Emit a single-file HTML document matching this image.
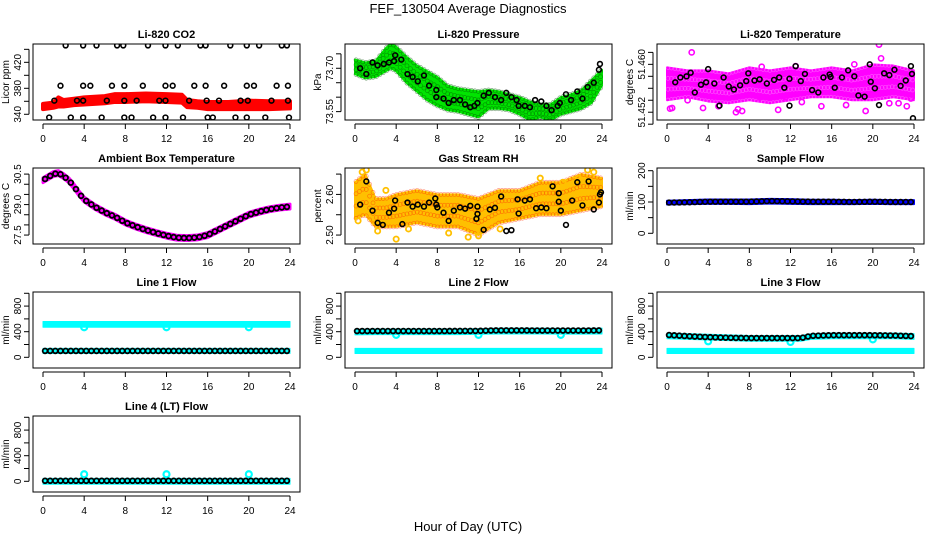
<!DOCTYPE html>
<html><head><meta charset="utf-8"><style>
html,body{margin:0;padding:0;background:#fff;width:936px;height:540px;overflow:hidden}
svg{display:block;font-family:"Liberation Sans",Arial,sans-serif}
</style></head><body>
<svg id="chart" width="936" height="540" viewBox="0 0 936 540">
<text x="468" y="13" text-anchor="middle" font-size="13">FEF_130504  Average Diagnostics</text>
<text x="468" y="531" text-anchor="middle" font-size="13">Hour of Day (UTC)</text>
</svg>
<script>
// ---- data ----
const hourTicks = [0,4,8,12,16,20,24];
// CO2
const co2BlackHours = [2.2,3.9,5.2,7.2,7.8,10.2,11.9,13.1,15.3,15.8,18.2,19.8,21.0,23.2,23.7, 1.7,3.9,4.6,6.7,7.9,9.7,11.9,12.6,14.7,15.8,17.6,19.8,20.5,22.7,23.8, 1.1,3.3,3.9,6.2,7.9,9.1,11.3,11.9,14.2,15.9,17.1,19.2,19.9,22.2,23.8, 0.6,2.7,3.9,5.7,7.9,8.6,10.7,11.9,13.6,16.0,16.5,18.7,19.8,21.6,23.9];
const co2BlackValues = [446,446,446,446,446,446,446,446,446,446,446,446,446,446,446, 384,384,384,384,384,384,384,384,384,384,384,384,384,384,384, 361,361,361,361,361,361,361,361,361,361,361,361,361,361,361, 335,335,335,335,335,335,335,335,335,335,335,335,335,335,335];
const co2BandHours = [0,1,1.5,2,3,4,6,7,8,10,12,13.5,14,15,16,18,20,22,24];
const co2BandLo = [348,350,352,352,354,355,357,359,359,360,359,358,351,350,348,348,348,348,349];
const co2BandHi = [356,358,366,362,364,366,368,371,371,372,371,370,362,360,359,359,361,360,360];
// Pressure
const presBandHours = [0,1,2,3,3.5,4,5,6,7,8,9,10,11,12,13,14,15,16,17,18,19,20,21,22,23,24];
const presBandLo = [73.68,73.665,73.67,73.69,73.70,73.69,73.65,73.62,73.59,73.57,73.555,73.55,73.54,73.53,73.56,73.56,73.555,73.54,73.52,73.53,73.52,73.54,73.55,73.56,73.58,73.64];
const presBandHi = [73.73,73.72,73.725,73.77,73.785,73.775,73.74,73.71,73.69,73.67,73.64,73.63,73.625,73.62,73.625,73.62,73.61,73.60,73.585,73.575,73.575,73.60,73.61,73.625,73.66,73.695];
const presHours = [0.5,1.1,1.7,2.2,2.8,3.3,3.8,3.9,4.5,5.1,5.6,6.1,6.7,7.2,7.9,7.9,8.6,9.1,9.6,10.2,10.7,11.2,11.6,11.9,12.5,13.0,13.6,14.2,14.7,15.2,15.7,15.9,16.5,17.0,17.5,18.1,18.6,19.1,19.7,19.9,20.5,21.0,21.6,22.1,22.6,23.2,23.7,23.8];
const presValues = [73.70,73.68,73.72,73.71,73.715,73.72,73.725,73.745,73.73,73.68,73.67,73.655,73.675,73.64,73.625,73.60,73.595,73.58,73.59,73.59,73.575,73.565,73.57,73.58,73.605,73.615,73.60,73.59,73.615,73.60,73.59,73.57,73.57,73.565,73.59,73.585,73.57,73.555,73.57,73.58,73.61,73.59,73.62,73.595,73.635,73.65,73.695,73.715];
// Li-820 temperature
const ltBandHours = [0,2,4,6,8,10,12,14,16,18,20,22,24];
const ltBandLo = [51.4540,51.4545,51.4538,51.4535,51.4540,51.4535,51.4540,51.4545,51.4545,51.4540,51.4540,51.4545,51.4540];
const ltBandHi = [51.4595,51.4590,51.4590,51.4585,51.4595,51.4590,51.4595,51.4590,51.4595,51.4590,51.4600,51.4598,51.4590];
const ltPinkHours = [0.3,0.5,2.4,3.5,6.7,6.9,7.3,9.0,10.8,11.5,12.5,15.0,17.4,19.3,20.6,20.8,21.6,22.5,23.7,2.0,5.0,9.2,13.1,18.2,23.3];
const ltPinkValues = [51.4526,51.4527,51.4620,51.4527,51.4520,51.4525,51.4522,51.4545,51.4524,51.4545,51.4597,51.4530,51.4532,51.4522,51.4633,51.4610,51.4535,51.4535,51.4543,51.4540,51.4530,51.4596,51.4537,51.4600,51.4530];
const ltHours = [0.8,1.3,1.9,2.3,2.7,3.3,3.8,4.0,4.6,5.1,5.5,6.0,6.5,7.1,7.7,7.9,8.5,9.0,9.7,10.4,10.9,11.4,11.9,11.9,12.5,13.0,13.4,14.1,14.7,15.2,15.8,15.9,16.3,17.0,17.6,18.2,18.6,19.2,19.7,19.8,20.2,20.6,21.1,21.6,22.1,22.7,23.2,23.7,23.8,23.9];
const ltValues = [51.4570,51.4578,51.4580,51.4586,51.4553,51.4566,51.4570,51.4592,51.4568,51.4531,51.4578,51.4563,51.4558,51.4565,51.4572,51.4585,51.4573,51.4575,51.4568,51.4574,51.4578,51.4561,51.4531,51.4576,51.4597,51.4572,51.4584,51.4557,51.4553,51.4578,51.4583,51.4579,51.4561,51.4578,51.4590,51.4580,51.4548,51.4546,51.4600,51.4571,51.4560,51.4532,51.4585,51.4582,51.4591,51.4564,51.4573,51.4597,51.4584,51.4510];
// Ambient box temperature
const ambHours = [0,0.5,1,1.5,2,2.5,3,3.5,4,5,6,7,8,9,10,11,12,13,14,15,16,17,18,19,20,21,22,23,24];
const ambValues = [30.2,30.35,30.5,30.55,30.4,30.2,29.9,29.55,29.25,28.9,28.62,28.4,28.12,27.92,27.75,27.6,27.47,27.37,27.35,27.38,27.5,27.75,28.0,28.25,28.5,28.65,28.77,28.85,28.9];
// Gas stream RH
const rhBandHours = [0,1,2,3,4,6,8,10,12,14,16,18,20,22,24];
const rhBandLo = [2.54,2.55,2.52,2.52,2.52,2.53,2.52,2.52,2.50,2.53,2.54,2.55,2.55,2.56,2.57];
const rhBandHi = [2.63,2.65,2.59,2.59,2.60,2.61,2.60,2.60,2.59,2.61,2.61,2.63,2.63,2.65,2.64];
const rhOrangeHours = [0.3,0.7,1.1,2.2,3.0,4.0,5.2,9.1,11.0,12.0,14.1,18.0,20.2,21.7,22.6,23.2];
const rhOrangeValues = [2.535,2.655,2.660,2.510,2.610,2.490,2.515,2.505,2.495,2.498,2.515,2.640,2.630,2.640,2.660,2.655];
const rhHours = [0.5,1.1,1.7,2.2,2.7,3.3,3.8,3.9,4.6,5.1,5.6,6.1,6.7,7.2,7.8,7.9,8.0,8.6,9.1,9.6,10.2,10.7,11.2,11.8,11.9,11.9,12.5,13.1,13.6,14.2,14.7,15.2,15.8,15.9,16.5,17.0,17.6,18.1,18.6,19.2,19.8,19.8,20.0,20.5,21.1,21.6,22.1,22.7,23.2,23.7,23.8,23.9];
const rhValues = [2.575,2.632,2.560,2.530,2.525,2.555,2.565,2.585,2.527,2.580,2.570,2.575,2.570,2.580,2.590,2.575,2.568,2.555,2.535,2.560,2.568,2.565,2.572,2.540,2.552,2.570,2.513,2.563,2.567,2.595,2.510,2.512,2.588,2.553,2.585,2.588,2.566,2.568,2.566,2.620,2.603,2.582,2.560,2.525,2.585,2.630,2.573,2.632,2.563,2.580,2.600,2.605];
// Sample flow
const sfHours = [0,2,4,6,8,10,12,14,16,18,20,22,24];
const sfBandLo = [92,93,94,94,93,95,94,93,93,93,94,93,93];
const sfBandHi = [104,106,108,108,108,110,109,107,107,106,107,106,106];
const sfValues = [98,99,101,101,101,103,102,101,101,100,101,100,100];
// Line flows
const flowHours = [0,2,4,6,8,10,12,13,14,16,18,20,22,24];
const line1Cyan = [520,520,520,520,520,520,520,520,520,520,520,520,520,520];
const line1Black = [100,100,100,100,100,100,100,100,100,100,100,100,100,100];
const line1Low = [100,100,100,100,100,100,100,100,100,100,100,100,100,100];
const line2Cyan = [400,405,405,405,405,405,408,412,415,415,415,412,412,415];
const line2Black = [410,410,410,410,410,412,412,418,420,420,418,418,418,420];
const line2Low = [100,100,100,100,100,100,100,100,100,100,100,100,100,100];
const line3Cyan = [340,330,320,310,300,300,300,300,330,340,340,340,340,330];
const line3Black = [350,330,315,305,300,300,300,300,335,345,345,345,340,330];
const line3Low = [100,100,100,100,100,100,100,100,100,100,100,100,100,100];
const line4Cyan = [5,5,5,5,5,5,5,5,5,5,5,5,5,5];
const line4Black = [8,8,8,8,8,8,8,8,8,8,8,8,8,8];
const dipHours = [4,12,20];
const line1Dips = [470,470,470];
const line2Dips = [350,350,350];
const line3Dips = [250,240,280];
const line4Spikes = [110,110,110];

// ---- drawing ----
const NS = 'http://www.w3.org/2000/svg';
const svg = document.getElementById('chart');
function mk(tag, attrs, parent){
  const e = document.createElementNS(NS, tag);
  for (const k in attrs) e.setAttribute(k, attrs[k]);
  (parent||svg).appendChild(e);
  return e;
}
function interp(hs, vs, h){
  if (h<=hs[0]) return vs[0];
  for (let i=1;i<hs.length;i++) if (h<=hs[i]) { const t=(h-hs[i-1])/(hs[i]-hs[i-1]); return vs[i-1]+t*(vs[i]-vs[i-1]); }
  return vs[vs.length-1];
}
function panel(col,row,title,ylab,ymin,ymax,ticks,labels,labelText){
  const L=33+312*col, R=300+312*col, T=44+124*row, B=120+124*row;
  const g = mk('g',{});
  
  
  const x = h => L+10+h*(247/24);
  const y = v => B-(v-ymin)/(ymax-ymin)*(B-T);
  const tt = mk('text',{x:(L+R)/2,y:T-6,'text-anchor':'middle','font-size':11,'font-weight':'bold'},g);
  tt.textContent = title;
  
  
  const plot = mk('g',{},g);
  
  
  const xa = mk('g',{stroke:'#000','stroke-width':1},g);
  
  
  mk('line',{x1:x(0),x2:x(24),y1:B+4,y2:B+4},xa);
  hourTicks.forEach(h=>{
    mk('line',{x1:x(h),x2:x(h),y1:B+4,y2:B+9},xa);
    const t = mk('text',{x:x(h),y:B+22,'text-anchor':'middle','font-size':10,stroke:'none'},xa);
    t.textContent = h;
    
    
  });
  const ya = mk('g',{stroke:'#000','stroke-width':1},g);
  
  
  mk('line',{x1:L-4,x2:L-4,y1:y(ticks[0]),y2:y(ticks[ticks.length-1])},ya);
  ticks.forEach(v=>{ mk('line',{x1:L-9,x2:L-4,y1:y(v),y2:y(v)},ya); });
  labels.forEach((v,i)=>{
    const t = mk('text',{x:0,y:0,'text-anchor':'middle','font-size':10,stroke:'none',transform:`translate(${L-12},${y(v)}) rotate(-90)`},ya);
    t.textContent = labelText[i];
    
    
  });
  const yl = mk('text',{x:0,y:0,'text-anchor':'middle','font-size':10,transform:`translate(${L-24},${(T+B)/2}) rotate(-90)`},g);
  yl.textContent = ylab;
  
  
  mk('defs',{},g).innerHTML = `<clipPath id="cp${col}${row}"><rect x="${L}" y="${T}" width="${R-L}" height="${B-T}"/></clipPath>`;
  plot.setAttribute('clip-path',`url(#cp${col}${row})`);
  const box = mk('rect',{x:L,y:T,width:R-L,height:B-T,fill:'none',stroke:'#000','stroke-width':1},g);
  
  
  return {x,y,plot};
}
function band(p,hs,lo,hi,color,name,sw){
  let d='';
  hs.forEach((h,i)=>{ d+=(i?'L':'M')+p.x(h)+','+p.y(hi[i]); });
  for(let i=hs.length-1;i>=0;i--) d+='L'+p.x(hs[i])+','+p.y(lo[i]);
  const e = mk('path',{d:d+'Z',fill:color,stroke:color,'stroke-width':sw==null?2:sw,'stroke-linejoin':'round'},p.plot);
  
  
  return e;
}
function pts(p,hs,vs,color,name,r,sw){
  const g = mk('g',{fill:'none',stroke:color,'stroke-width':sw||1.6},p.plot);
  
  
  hs.forEach((h,i)=>{ mk('circle',{cx:p.x(h),cy:p.y(vs[i]),r:r||2.4},g); });
}
function densePts(p,hs,vs,step,color,name,r,sw){
  const dh=[],dv=[];
  for(let h=0.2;h<=23.9;h+=step){ dh.push(h); dv.push(interp(hs,vs,h)); }
  pts(p,dh,dv,color,name,r,sw);
}
function texture(p,hs,lo,hi,color,name,op){
  const g = mk('g',{fill:'none',stroke:color,'stroke-width':0.7,opacity:op||0.6},p.plot);
  
  
  for(let h=0.1;h<=23.9;h+=0.33){
    const a=interp(hs,lo,h), b=interp(hs,hi,h);
    for(let k=0;k<=3;k++) mk('circle',{cx:p.x(h),cy:p.y(a+(b-a)*k/3),r:2},g);
  }
}

// CO2
let p = panel(0,0,'Li-820 CO2','Licor ppm',331.2,448.2,[340,360,380,400,420,440],[340,380,420],['340','380','420']);
band(p,co2BandHours,co2BandLo,co2BandHi,'#ff0000','co2-band',4);
pts(p,co2BlackHours,co2BlackValues,'#000','co2-points');
// Pressure
p = panel(1,0,'Li-820 Pressure','kPa',73.521,73.784,[73.55,73.60,73.65,73.70,73.75],[73.55,73.70],['73.55','73.70']);
band(p,presBandHours,presBandLo,presBandHi,'#00e400','pressure-band');
texture(p,presBandHours,presBandLo,presBandHi,'#005000','pressure-texture',0.5);
pts(p,presHours,presValues,'#000','pressure-points');
// Li temp
p = panel(2,0,'Li-820 Temperature','degrees C',51.4507,51.4634,[51.450,51.452,51.454,51.456,51.458,51.460,51.462],[51.452,51.460],['51.452','51.460']);
band(p,ltBandHours,ltBandLo,ltBandHi,'#ff00ff','li-temp-band');
texture(p,ltBandHours,ltBandLo,ltBandHi,'#ffffff','li-temp-texture',0.3);
pts(p,ltPinkHours,ltPinkValues,'#ff00ff','li-temp-pink-points',2.6,1.6);
pts(p,ltHours,ltValues,'#000','li-temp-points');
// Ambient
p = panel(0,1,'Ambient Box Temperature','degrees C',27.06,30.80,[27.5,28.0,28.5,29.0,29.5,30.0,30.5],[27.5,29.0,30.5],['27.5','29.0','30.5']);
band(p,ambHours,ambValues.map(v=>v-0.12),ambValues.map(v=>v+0.12),'#ff00ff','ambient-band',3);
densePts(p,ambHours,ambValues,0.5,'#000','ambient-points',2.4,1.8);
// RH
p = panel(1,1,'Gas Stream RH','percent',2.478,2.665,[2.50,2.55,2.60,2.65],[2.50,2.60],['2.50','2.60']);
band(p,rhBandHours,rhBandLo,rhBandHi,'#ffc000','rh-band');
texture(p,rhBandHours,rhBandLo,rhBandHi,'#ff3000','rh-texture',0.5);
pts(p,rhOrangeHours,rhOrangeValues,'#ffc000','rh-orange-points',2.6,1.8);
pts(p,rhHours,rhValues,'#000','rh-points');
// Sample flow
p = panel(2,1,'Sample Flow','ml/min',-34.2,208.6,[0,50,100,150,200],[0,100,200],['0','100','200']);
band(p,sfHours,sfBandLo,sfBandHi,'#0000ff','sample-flow-band');
densePts(p,sfHours,sfValues,0.5,'#000','sample-flow-points',2.4,1.6);
// Line flows
const flowTicks=[0,200,400,600,800,1000];
function flowPanel(col,row,title,cyan,black,low,dips,nm){
  const q = panel(col,row,title,'ml/min',-167,1020,flowTicks,[0,400,800],['0','400','800']);
  band(q,flowHours,cyan.map(v=>v-50),cyan.map(v=>v+40),'#00ffff',nm+'-cyan-band',1);
  if(low) band(q,flowHours,low.map(v=>v-40),low.map(v=>v+40),'#00ffff',nm+'-cyan-low-band',1);
  pts(q,dipHours,dips,'#00ffff',nm+'-cyan-outliers',3,2.2);
  densePts(q,flowHours,black,0.5,'#000',nm+'-points',2.4,1.8);
}
flowPanel(0,2,'Line 1 Flow',line1Cyan,line1Black,line1Low,line1Dips,'line1');
flowPanel(1,2,'Line 2 Flow',line2Cyan,line2Black,line2Low,line2Dips,'line2');
flowPanel(2,2,'Line 3 Flow',line3Cyan,line3Black,line3Low,line3Dips,'line3');
flowPanel(0,3,'Line 4 (LT) Flow',line4Cyan,line4Black,null,line4Spikes,'line4');
</script>
</body></html>
